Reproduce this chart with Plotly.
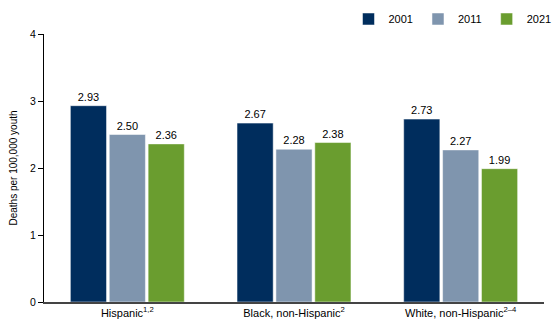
import plotly.graph_objects as go

categories = ["Hispanic<sup>1,2</sup>", "Black, non-Hispanic<sup>2</sup>", "White, non-Hispanic<sup>2–4</sup>"]
years = ["2001", "2011", "2021"]
v2001 = [2.93, 2.67, 2.73]
v2011 = [2.50, 2.28, 2.27]
v2021 = [2.36, 2.38, 1.99]
colors = ["#002D5D", "#7F95AE", "#6A9D2F"]

fig = go.Figure()
for name, vals, c in zip(years, [v2001, v2011, v2021], colors):
    fig.add_trace(go.Bar(
        x=categories, y=vals, name=name,
        marker=dict(color=c, line=dict(color="white", width=0.5)),
        text=[f"{v:.2f}" for v in vals], textposition="outside",
        textfont=dict(size=11, color="black"), cliponaxis=False,
    ))

fig.update_layout(
    width=560, height=334,
    margin=dict(l=44, r=16, t=34, b=32, autoexpand=False),
    paper_bgcolor="white", plot_bgcolor="white",
    font=dict(family="Liberation Sans, Arial, sans-serif", size=10, color="black"),
    barmode="group", bargap=0.3, bargroupgap=0.07,
    legend=dict(orientation="h", x=1.025, xanchor="right", y=1.056, yanchor="middle",
                font=dict(size=11), traceorder="normal", itemwidth=30),
    showlegend=True,
)
fig.update_yaxes(range=[0, 4], dtick=1, showgrid=False, showline=True, linecolor="black",
                 linewidth=1, ticks="outside", ticklen=5, tickcolor="black",
                 tickfont=dict(size=10.5),
                 title=dict(text="Deaths per 100,000 youth", font=dict(size=10), standoff=10),
                 zeroline=False)
fig.update_xaxes(showline=True, linecolor="#444", linewidth=1.5, ticks="", showgrid=False,
                 tickfont=dict(size=11))

fig.write_html("out.html")
